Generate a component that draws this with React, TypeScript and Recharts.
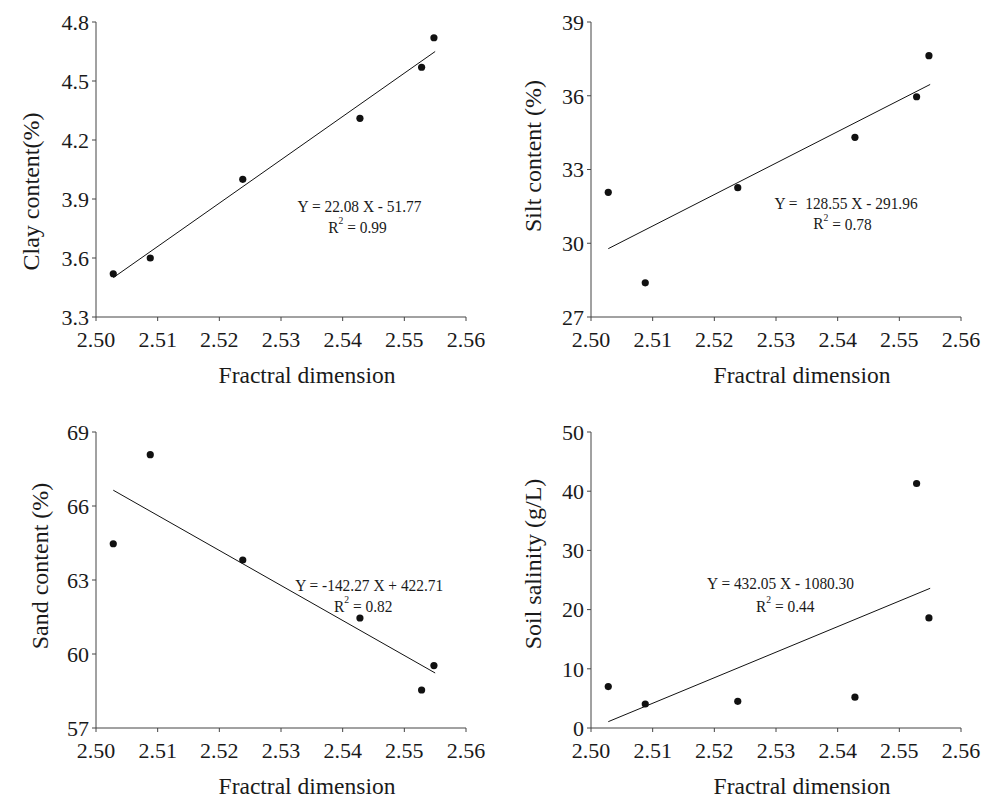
import React from 'react';
import { ScatterChart, Scatter, XAxis, YAxis, ReferenceLine, Customized } from 'recharts';

// ---- data ----
const fractalDim = [2.5028, 2.5088, 2.5238, 2.5428, 2.5528, 2.5548];
const xTicks = [2.5, 2.51, 2.52, 2.53, 2.54, 2.55, 2.56];

const clay = [3.52, 3.6, 4.0, 4.31, 4.57, 4.72];
const silt = [32.07, 28.39, 32.26, 34.31, 35.96, 37.63];
const sand = [64.47, 68.08, 63.81, 61.46, 58.54, 59.53];
const salinity = [7.0, 4.05, 4.5, 5.2, 41.3, 18.6];

const fitX = [2.5028, 2.555];
const clayFit = [3.5, 4.65];
const siltFit = [29.78, 36.46];
const sandFit = [66.64, 59.23];
const salinityFit = [1.07, 23.6];

const clayTicks = [3.3, 3.6, 3.9, 4.2, 4.5, 4.8];
const siltTicks = [27, 30, 33, 36, 39];
const sandTicks = [57, 60, 63, 66, 69];
const salinityTicks = [0, 10, 20, 30, 40, 50];

const xTitle = 'Fractral dimension';

const FONT = '"Liberation Serif", "Times New Roman", serif';
const TEXT = '#1a1a1a';
const AXIS = '#444';

type EqProps = {
  line1: string;
  r2: string;
  x1: number;
  y1: number;
  x2: number;
  y2: number;
};

const Equation = ({ line1, r2, x1, y1, x2, y2 }: EqProps) => (
  <g fontFamily={FONT} fill={TEXT}>
    <g transform={`translate(${x1},${y1}) scale(0.88,1)`}>
      <text x={0} y={0} textAnchor="middle" dominantBaseline="central" fontSize={17.5} style={{ whiteSpace: 'pre' }}>
        {line1}
      </text>
    </g>
    <g transform={`translate(${x2},${y2}) scale(0.88,1)`}>
      <text x={0} y={0} textAnchor="middle" dominantBaseline="central" fontSize={17.5}>
        R
        <tspan fontSize={11} dy={-7}>2</tspan>
        <tspan dy={7}>{` = ${r2}`}</tspan>
      </text>
    </g>
  </g>
);

type PanelProps = {
  left: number;
  top: number;
  values: number[];
  fit: number[];
  yTicks: number[];
  yDecimals: number;
  yTitle: string;
  yTitleX: number;
  yTitleDy: number;
  marginTop: number;
  marginRight: number;
  yAxisWidth: number;
  xAxisHeight: number;
  eq: EqProps;
};

const Panel = (p: PanelProps) => {
  const pts = fractalDim.map((x, i) => ({ x, y: p.values[i] }));
  return (
    <div style={{ position: 'absolute', left: p.left, top: p.top }}>
      <ScatterChart
        width={500}
        height={400}
        margin={{ top: p.marginTop, right: p.marginRight, bottom: 0, left: 0 }}
      >
        <XAxis
          type="number"
          dataKey="x"
          domain={[xTicks[0], xTicks[xTicks.length - 1]]}
          ticks={xTicks}
          tickFormatter={(v: number) => v.toFixed(2)}
          height={p.xAxisHeight}
          tickSize={4}
          tickMargin={10}
          stroke={AXIS}
          tick={{ fontFamily: FONT, fontSize: 22, fill: TEXT }}
          label={{
            content: (props: any) => {
              const vb = props.viewBox;
              return (
                <text
                  x={vb.x + vb.width / 2 + 26}
                  y={vb.y + 58}
                  textAnchor="middle"
                  dominantBaseline="central"
                  fontFamily={FONT}
                  fontSize={23.5}
                  fill={TEXT}
                >
                  {xTitle}
                </text>
              );
            },
          }}
        />
        <YAxis
          type="number"
          dataKey="y"
          domain={[p.yTicks[0], p.yTicks[p.yTicks.length - 1]]}
          ticks={p.yTicks}
          tickFormatter={(v: number) => v.toFixed(p.yDecimals)}
          width={p.yAxisWidth}
          tickSize={4}
          tickMargin={3}
          stroke={AXIS}
          tick={{ fontFamily: FONT, fontSize: 22, fill: TEXT }}
          label={{
            content: (props: any) => {
              const vb = props.viewBox;
              const cx = vb.x + p.yTitleX;
              const cy = vb.y + vb.height / 2 + p.yTitleDy;
              return (
                <text
                  x={cx}
                  y={cy}
                  transform={`rotate(-90, ${cx}, ${cy})`}
                  textAnchor="middle"
                  dominantBaseline="central"
                  fontFamily={FONT}
                  fontSize={24}
                  fill={TEXT}
                >
                  {p.yTitle}
                </text>
              );
            },
          }}
        />
        <ReferenceLine
          segment={[
            { x: fitX[0], y: p.fit[0] },
            { x: fitX[1], y: p.fit[1] },
          ]}
          stroke="#111"
          strokeWidth={1}
          ifOverflow="visible"
        />
        <Scatter
          data={pts}
          isAnimationActive={false}
          shape={(s: any) => <circle cx={s.cx} cy={s.cy} r={3.6} fill="#111" />}
        />
        <Customized component={<Equation {...p.eq} />} />
      </ScatterChart>
    </div>
  );
};

export default function App() {
  return (
    <div
      style={{
        position: 'absolute',
        left: 0,
        top: 0,
        width: 1001,
        height: 798,
        background: '#fff',
        overflow: 'hidden',
      }}
    >
      <Panel
        left={0}
        top={0}
        values={clay}
        fit={clayFit}
        yTicks={clayTicks}
        yDecimals={1}
        yTitle="Clay content(%)"
        yTitleX={31}
        yTitleDy={22}
        marginTop={22}
        marginRight={34}
        yAxisWidth={96}
        xAxisHeight={83}
        eq={{ line1: 'Y = 22.08 X - 51.77', r2: '0.99', x1: 359.5, y1: 205.7, x2: 357.5, y2: 226.7 }}
      />
      <Panel
        left={500}
        top={0}
        values={silt}
        fit={siltFit}
        yTicks={siltTicks}
        yDecimals={0}
        yTitle="Silt content (%)"
        yTitleX={32.5}
        yTitleDy={-13.5}
        marginTop={22}
        marginRight={39}
        yAxisWidth={91}
        xAxisHeight={83}
        eq={{ line1: 'Y =  128.55 X - 291.96', r2: '0.78', x1: 346, y1: 203.3, x2: 342.5, y2: 223.5 }}
      />
      <Panel
        left={0}
        top={400}
        values={sand}
        fit={sandFit}
        yTicks={sandTicks}
        yDecimals={0}
        yTitle="Sand content (%)"
        yTitleX={40}
        yTitleDy={-14}
        marginTop={32}
        marginRight={34}
        yAxisWidth={96}
        xAxisHeight={72}
        eq={{ line1: 'Y = -142.27 X + 422.71', r2: '0.82', x1: 369.2, y1: 185, x2: 363.3, y2: 206 }}
      />
      <Panel
        left={500}
        top={400}
        values={salinity}
        fit={salinityFit}
        yTicks={salinityTicks}
        yDecimals={0}
        yTitle="Soil salinity (g/L)"
        yTitleX={32.5}
        yTitleDy={-16}
        marginTop={32}
        marginRight={39}
        yAxisWidth={91}
        xAxisHeight={72}
        eq={{ line1: 'Y = 432.05 X - 1080.30', r2: '0.44', x1: 280.5, y1: 183.3, x2: 285.3, y2: 205.7 }}
      />
    </div>
  );
}
